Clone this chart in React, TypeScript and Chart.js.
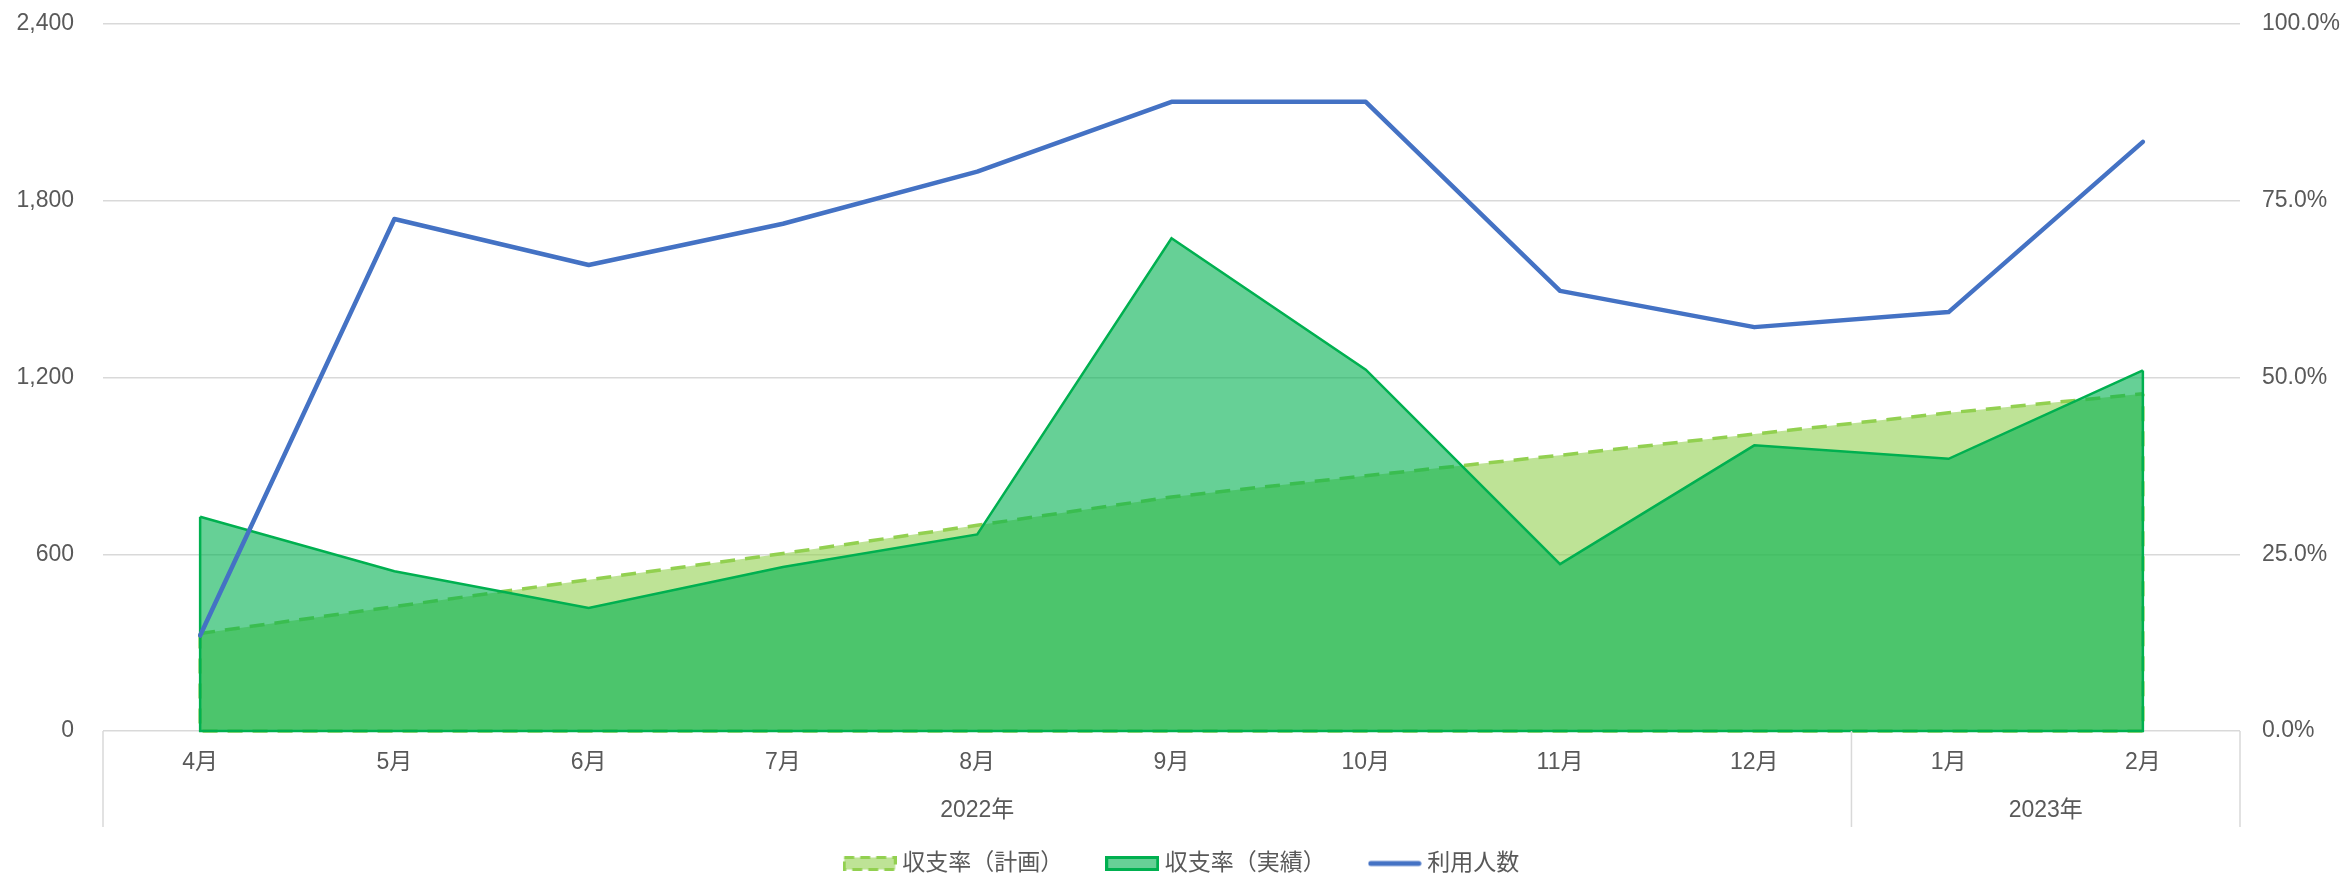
import React, { useEffect, useRef } from 'react';
import { Chart, registerables } from 'chart.js';

Chart.register(...registerables);

// ---- data ----
const monthLabels = ['4月', '5月', '6月', '7月', '8月', '9月', '10月', '11月', '12月', '1月', '2月'];
const yearLabels = ['2022年', '2023年'];
const yearMonthCounts = [9, 2];
const userCounts = [324, 1738, 1582, 1722, 1899, 2136, 2136, 1494, 1371, 1422, 2000];
const planRatio = [0.138, 0.176, 0.214, 0.251, 0.291, 0.331, 0.361, 0.39, 0.42, 0.45, 0.477];
const actualRatio = [0.303, 0.226, 0.174, 0.232, 0.278, 0.697, 0.511, 0.236, 0.404, 0.385, 0.51];
const leftTicks = [0, 600, 1200, 1800, 2400];
const rightTicks = [0, 0.25, 0.5, 0.75, 1];
const seriesNames = ['収支率（計画）', '収支率（実績）', '利用人数'];

const FONT = "'Liberation Sans', Arial, 'Noto Sans CJK JP', sans-serif";
const TEXT = '#595959';
const GRID = '#D9D9D9';

function makeBox(fill: string, stroke: string, dash: number[], lw: number) {
  const c = document.createElement('canvas');
  c.width = 54;
  c.height = 15;
  const g = c.getContext('2d')!;
  g.fillStyle = fill;
  g.fillRect(lw / 2, lw / 2, c.width - lw, c.height - lw);
  g.strokeStyle = stroke;
  g.lineWidth = lw;
  g.setLineDash(dash);
  g.strokeRect(lw / 2, lw / 2, c.width - lw, c.height - lw);
  return c;
}

function makeLine(color: string, lw: number) {
  const c = document.createElement('canvas');
  c.width = 54;
  c.height = 8;
  const g = c.getContext('2d')!;
  g.strokeStyle = color;
  g.lineWidth = lw;
  g.lineCap = 'round';
  g.beginPath();
  g.moveTo(3, 4);
  g.lineTo(51, 4);
  g.stroke();
  return c;
}

const edgePlugin = {
  id: 'areaEdges',
  afterDatasetDraw(chart: any, args: any) {
    const ds = chart.data.datasets[args.index];
    if (!ds.fill) return;
    const meta = args.meta;
    const pts = meta.data;
    if (!pts.length) return;
    const base = meta.yScale.getPixelForValue(0);
    const first = pts[0];
    const last = pts[pts.length - 1];
    const ctx = chart.ctx;
    ctx.save();
    ctx.strokeStyle = ds.borderColor;
    ctx.lineWidth = ds.borderWidth;
    ctx.setLineDash(ds.borderDash || []);
    ctx.beginPath();
    ctx.moveTo(first.x, first.y);
    ctx.lineTo(first.x, base);
    ctx.lineTo(last.x, base);
    ctx.lineTo(last.x, last.y);
    ctx.stroke();
    ctx.restore();
  },
};

const legendShiftPlugin = {
  id: 'legendShift',
  beforeDraw(chart: any) {
    if (chart.legend) chart.legend.left = 27;
  },
};

const yearPlugin = {
  id: 'yearGroups',
  afterDraw(chart: any) {
    const { ctx, chartArea } = chart;
    const x = chart.scales.x;
    const bounds = [-0.5];
    let acc = 0;
    yearMonthCounts.forEach((c) => {
      acc += c;
      bounds.push(acc - 0.5);
    });
    ctx.save();
    ctx.strokeStyle = GRID;
    ctx.lineWidth = 1.5;
    bounds.forEach((b) => {
      const px = x.getPixelForValue(b);
      ctx.beginPath();
      ctx.moveTo(px, chartArea.bottom);
      ctx.lineTo(px, chartArea.bottom + 96);
      ctx.stroke();
    });
    ctx.fillStyle = TEXT;
    ctx.font = `23px ${FONT}`;
    ctx.textAlign = 'center';
    ctx.textBaseline = 'middle';
    yearLabels.forEach((lbl, i) => {
      const cx = (x.getPixelForValue(bounds[i]) + x.getPixelForValue(bounds[i + 1])) / 2;
      ctx.fillText(lbl, cx, chartArea.bottom + 80);
    });
    ctx.restore();
  },
};

export default function App() {
  const ref = useRef<HTMLCanvasElement>(null);

  useEffect(() => {
    const canvas = ref.current!;
    const legendImages = [
      makeBox('rgba(146,208,80,0.6)', '#92D050', [10, 6], 3),
      makeBox('rgba(0,176,80,0.6)', '#00B050', [], 3),
      makeLine('#4472C4', 5),
    ];
    const chart = new Chart(canvas, {
      type: 'line',
      data: {
        labels: monthLabels,
        datasets: [
          {
            label: seriesNames[0],
            data: planRatio,
            yAxisID: 'y1',
            fill: 'origin',
            backgroundColor: 'rgba(146,208,80,0.6)',
            borderColor: '#92D050',
            borderWidth: 3.5,
            borderDash: [15, 10],
            pointRadius: 0,
            tension: 0,
            order: 3,
          },
          {
            label: seriesNames[1],
            data: actualRatio,
            yAxisID: 'y1',
            fill: 'origin',
            backgroundColor: 'rgba(0,176,80,0.6)',
            borderColor: '#00B050',
            borderWidth: 2.5,
            pointRadius: 0,
            tension: 0,
            order: 2,
          },
          {
            label: seriesNames[2],
            data: userCounts,
            yAxisID: 'y',
            fill: false,
            backgroundColor: '#4472C4',
            borderColor: '#4472C4',
            borderWidth: 4.5,
            borderJoinStyle: 'round',
            borderCapStyle: 'round',
            pointRadius: 0,
            tension: 0,
            order: 1,
          },
        ] as any,
      },
      options: {
        responsive: false,
        animation: false,
        devicePixelRatio: 1,
        layout: { padding: { top: 24, left: 0, right: 0, bottom: 0 } },
        scales: {
          x: {
            type: 'category',
            offset: true,
            grid: { display: false, drawTicks: false },
            border: { display: false },
            ticks: {
              color: TEXT,
              font: { size: 23, family: FONT },
              padding: 18,
              maxRotation: 0,
              autoSkip: false,
            },
            afterFit: (s: any) => {
              s.height = 73;
            },
          },
          y: {
            position: 'left',
            min: 0,
            max: 2400,
            grid: { color: GRID, lineWidth: 1.5, drawTicks: false },
            border: { display: false },
            ticks: {
              color: TEXT,
              font: { size: 23, family: FONT },
              padding: 29,
              callback: (v: any) => Number(v).toLocaleString('en-US'),
            },
            afterBuildTicks: (s: any) => {
              s.ticks = leftTicks.map((v) => ({ value: v }));
            },
            afterFit: (s: any) => {
              s.width = 103;
              s.paddingTop = 0;
              s.paddingBottom = 0;
            },
          },
          y1: {
            position: 'right',
            min: 0,
            max: 1,
            grid: { drawOnChartArea: false, drawTicks: false },
            border: { display: false },
            ticks: {
              color: TEXT,
              font: { size: 23, family: FONT },
              padding: 22,
              callback: (v: any) => (Number(v) * 100).toFixed(1) + '%',
            },
            afterBuildTicks: (s: any) => {
              s.ticks = rightTicks.map((v) => ({ value: v }));
            },
            afterFit: (s: any) => {
              s.width = 101;
              s.paddingTop = 0;
              s.paddingBottom = 0;
            },
          },
        },
        plugins: {
          tooltip: { enabled: false },
          legend: {
            position: 'bottom',
            maxHeight: 71,
            labels: {
              usePointStyle: true,
              pointStyleWidth: 42,
              padding: 48,
              color: TEXT,
              font: { size: 23, family: FONT },
              generateLabels: (ch: any) => {
                const items = (Chart.defaults.plugins.legend.labels as any).generateLabels(ch);
                items.sort((a: any, b: any) => a.datasetIndex - b.datasetIndex);
                items.forEach((it: any) => {
                  it.pointStyle = legendImages[it.datasetIndex];
                  it.fontColor = TEXT;
                });
                return items;
              },
            },
          },
        },
      } as any,
      plugins: [edgePlugin, yearPlugin, legendShiftPlugin],
    });
    return () => chart.destroy();
  }, []);

  return (
    <div style={{ position: 'absolute', left: 0, top: 0, width: 2341, height: 875 }}>
      <canvas ref={ref} width={2341} height={875} style={{ display: 'block' }} />
    </div>
  );
}
